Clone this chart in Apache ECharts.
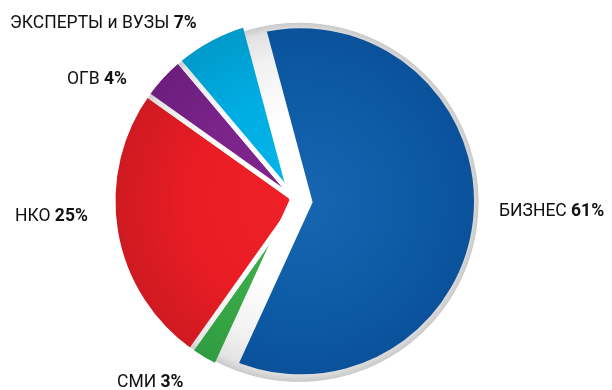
<!DOCTYPE html>
<html><head><meta charset="utf-8">
<script src="https://cdn.jsdelivr.net/npm/echarts@6/dist/echarts.min.js"></script>
<style>html,body{margin:0;padding:0;background:#fff}#c{width:612px;height:390px}</style>
</head><body><div id="c"></div>
<script>
// Data
const categories = ['БИЗНЕС', 'СМИ', 'НКО', 'ОГВ', 'ЭКСПЕРТЫ и ВУЗЫ'];
const shares = [61, 3, 25, 4, 7];

// Styling
const CX = 297, CY = 201, PIE_R = 181.5;
const DX = 295, DY = 202, DISC_R = 180;
const innerColors = ['#1766b1', '#3db04b', '#ef2028', '#80268e', '#06b6ea'];
const midColors   = ['#0d5ba5', '#38a946', '#e91c24', '#7a2389', '#00ade3'];
const outerColors = ['#0a5099', '#2f9c41', '#cf1a21', '#6b1e7d', '#009aca'];
const labelPos = [[499, 212], [117, 383], [15, 217], [67, 80], [10, 24]];
const FONT = 'Roboto, "Liberation Sans", Arial, sans-serif';
const FS = 17.5;

function radial(x, y, r, stops) {
  return { type: 'radial', x: x, y: y, r: r, global: true,
    colorStops: stops.map(s => ({ offset: s[0], color: s[1] })) };
}
const grayStops = [[0, '#ffffff'], [0.45, '#ffffff'], [0.8, '#f1f1f1'], [0.95, '#e3e3e3'], [0.995, '#cbcbcb'], [1, '#ffffff']];

const pieData = categories.map((name, i) => ({
  name: name,
  value: shares[i],
  selected: i === 0,
  itemStyle: {
    color: radial(CX, CY, PIE_R, [[0, innerColors[i]], [0.6, midColors[i]], [1, outerColors[i]]]),
    borderColor: i === 0 ? radial(DX, DY, DISC_R, grayStops) : radial(CX, CY, PIE_R, grayStops),
    borderWidth: i === 0 ? 22 : 5,
    borderJoin: i === 0 ? 'miter' : 'bevel'
  }
}));
const labelData = categories.map((name, i) => ({ name: name, value: shares[i] }));

const chart = echarts.init(document.getElementById('c'), null, { renderer: 'canvas' });
chart.setOption({
  animation: false,
  series: [
    {
      type: 'pie', silent: true, z: 1,
      center: [DX, DY], radius: DISC_R,
      label: { show: false }, labelLine: { show: false },
      data: [{ value: 1, itemStyle: { color: radial(DX, DY, DISC_R, grayStops) } }]
    },
    {
      type: 'pie', silent: true, z: 2,
      center: [CX, CY], radius: PIE_R + 2.5,
      startAngle: 105, clockwise: true,
      selectedMode: 'single', selectedOffset: 4,
      label: { show: false }, labelLine: { show: false },
      data: pieData
    },
    {
      type: 'pie', silent: true, z: 3,
      center: [CX, CY], radius: PIE_R,
      startAngle: 105, clockwise: true,
      avoidLabelOverlap: false,
      itemStyle: { color: 'rgba(0,0,0,0)', borderWidth: 0 },
      labelLine: { show: false },
      label: {
        show: true, position: 'inside', align: 'left', verticalAlign: 'middle',
        formatter: p => '{n|' + p.name + ' }{b|' + p.value + '%}',
        rich: {
          n: { fontFamily: FONT, fontSize: FS, color: '#111111' },
          b: { fontFamily: FONT, fontSize: FS, fontWeight: 'bold', color: '#111111' }
        }
      },
      labelLayout: p => ({ x: labelPos[p.dataIndex][0], y: labelPos[p.dataIndex][1], align: 'left', verticalAlign: 'middle' }),
      data: labelData
    }
  ]
});
</script></body></html>
